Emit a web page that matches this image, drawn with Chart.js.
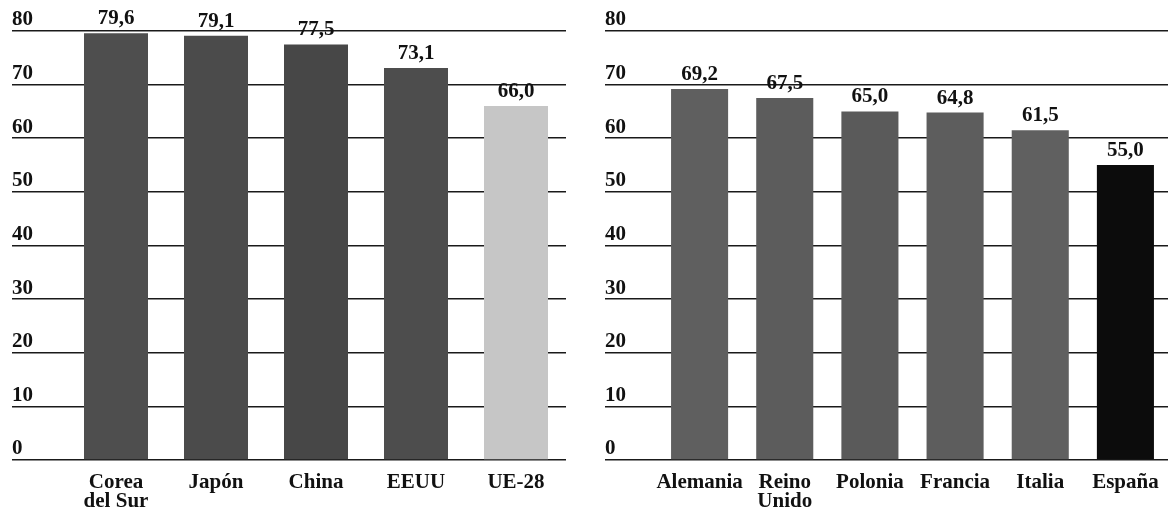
<!DOCTYPE html>
<html>
<head>
<meta charset="utf-8">
<script src="https://cdn.jsdelivr.net/npm/chart.js@4/dist/chart.umd.min.js"></script>
<style>
  body { margin: 0; background: #fff; }
  #wrap { position: relative; width: 1176px; height: 510px; }
  #left { position: absolute; left: 0; top: 0; }
  #right { position: absolute; left: 590px; top: 0; }
</style>
</head>
<body>
<div id="wrap">
  <canvas id="left" width="590" height="510"></canvas>
  <canvas id="right" width="586" height="510"></canvas>
</div>
<script>
// datos
const paisesMundo = [["Corea", "del Sur"], "Japón", "China", "EEUU", "UE-28"]
const valoresMundo = [79.6, 79.1, 77.5, 73.1, 66.0]
const coloresMundo = ["#4e4e4e", "#4b4b4b", "#474747", "#4d4d4d", "#c6c6c6"]

const paisesUE = ["Alemania", ["Reino", "Unido"], "Polonia", "Francia", "Italia", "España"]
const valoresUE = [69.2, 67.5, 65.0, 64.8, 61.5, 55.0]
const coloresUE = ["#5f5f5f", "#5c5c5c", "#5a5a5a", "#5d5d5d", "#606060", "#0c0c0c"]

const yMin = 0
const yMax = 80
const yStep = 10

const fuente = "'Liberation Serif', 'DejaVu Serif', serif"
const formato = v => v.toFixed(1).replace('.', ',')

// valores encima de cada barra
const etiquetas = {
  id: 'etiquetas',
  afterDatasetsDraw(chart) {
    const ctx = chart.ctx
    const meta = chart.getDatasetMeta(0)
    ctx.save()
    ctx.font = "bold 21px " + fuente
    ctx.fillStyle = "#111"
    ctx.textAlign = "center"
    ctx.textBaseline = "alphabetic"
    meta.data.forEach((bar, i) => {
      ctx.fillText(formato(chart.data.datasets[0].data[i]), bar.x, bar.y - 9)
    })
    ctx.restore()
  }
}

const crearGrafico = (id, labels, data, colors, padLeft, padRight, ejeAncho, barPct) => {
  new Chart(document.getElementById(id), {
    type: 'bar',
    data: {
      labels: labels,
      datasets: [{
        data: data,
        backgroundColor: colors,
        borderWidth: 0,
        barPercentage: barPct,
        categoryPercentage: 1
      }]
    },
    options: {
      responsive: false,
      animation: false,
      devicePixelRatio: 1,
      layout: { padding: { left: padLeft, right: padRight, top: 31, bottom: 0 } },
      plugins: { legend: { display: false }, tooltip: { enabled: false } },
      scales: {
        x: {
          grid: { display: false },
          border: { display: false },
          ticks: {
            color: "#111",
            padding: 5,
            maxRotation: 0,
            autoSkip: false,
            font: { family: fuente, size: 21, weight: 'bold', lineHeight: 0.92 }
          },
          afterFit: scale => { scale.height = 50 }
        },
        y: {
          min: yMin,
          max: yMax,
          border: { display: false },
          grid: { color: "#1a1a1a", lineWidth: 1.6, drawTicks: true, tickLength: ejeAncho },
          ticks: {
            stepSize: yStep,
            color: "#111",
            crossAlign: 'far',
            labelOffset: -11,
            padding: 0,
            font: { family: fuente, size: 21, weight: 'bold' }
          },
          afterFit: scale => { scale.width = ejeAncho }
        }
      }
    },
    plugins: [etiquetas]
  })
}

crearGrafico("left", paisesMundo, valoresMundo, coloresMundo, 12, 24, 54, 0.64)
crearGrafico("right", paisesUE, valoresUE, coloresUE, 15, 8, 52, 0.67)
</script>
</body>
</html>
